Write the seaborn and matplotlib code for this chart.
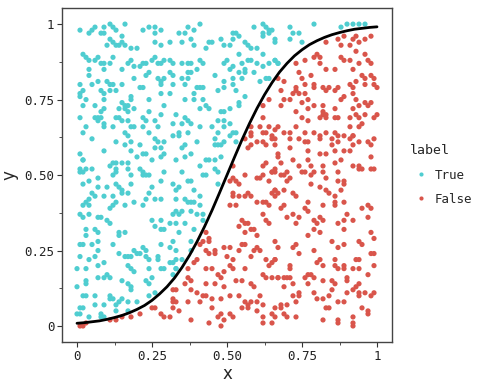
import numpy as np
import pandas as pd
import matplotlib
matplotlib.use('Agg')
import matplotlib.pyplot as plt
import seaborn as sns

# points above the curve (label True)
true_x = [
    0.01, 0.04, 0.06, 0.05, 0.09, 0.11, 0.12, 0.13, 0.16, 0.08, 0.09, 0.15, 0.22, 0.24, 0.26, 0.28, 0.26,
    0.11, 0.12, 0.13, 0.15, 0.14, 0.16, 0.10, 0.18, 0.20, 0.26, 0.31, 0.28,
    0.02, 0.03, 0.04, 0.06, 0.07, 0.08, 0.09, 0.09, 0.12, 0.11, 0.17, 0.18, 0.19, 0.21, 0.22, 0.23, 0.25,
    0.26, 0.27, 0.28, 0.29, 0.31, 0.32, 0.31, 0.32,
    0.04, 0.15, 0.24, 0.23, 0.04, 0.07, 0.05, 0.01, 0.10, 0.11, 0.12, 0.15, 0.19, 0.27, 0.28, 0.29, 0.28, 0.32,
    0.22, 0.21, 0.08, 0.11, 0.13, 0.02, 0.01, 0.01, 0.03, 0.09, 0.18, 0.18, 0.24, 0.28, 0.31, 0.09, 0.15, 0.16,
    0.02, 0.06, 0.09, 0.14, 0.16, 0.17, 0.19, 0.24, 0.29, 0.08, 0.08, 0.07, 0.06, 0.01, 0.14, 0.13, 0.17,
    0.22, 0.23, 0.28, 0.07, 0.09, 0.09, 0.12, 0.15, 0.17, 0.18, 0.19, 0.22, 0.26, 0.27, 0.32, 0.03, 0.02,
    0.05, 0.16, 0.17, 0.24, 0.26, 0.32, 0.13, 0.16, 0.18, 0.21, 0.27, 0.29, 0.26, 0.28, 0.09, 0.18,
    0.01, 0.02, 0.02, 0.11, 0.12, 0.13, 0.15, 0.17, 0.20, 0.22, 0.23, 0.25, 0.28, 0.29, 0.01, 0.02, 0.03,
    0.13, 0.17, 0.21, 0.22,
    0.34, 0.36, 0.37, 0.39, 0.41, 0.38, 0.39, 0.35, 0.43, 0.44, 0.45, 0.48, 0.49, 0.51, 0.52, 0.53, 0.54,
    0.52, 0.56, 0.57, 0.58, 0.59, 0.62, 0.63, 0.64, 0.62, 0.64, 0.62, 0.60, 0.62, 0.54, 0.50, 0.49, 0.51,
    0.52, 0.55, 0.56, 0.54, 0.57, 0.58, 0.60, 0.62, 0.64, 0.66, 0.35, 0.37, 0.38, 0.41, 0.42, 0.37, 0.38,
    0.40, 0.35, 0.37, 0.36, 0.46, 0.49, 0.52, 0.55, 0.56, 0.59, 0.61, 0.63, 0.64, 0.40, 0.41, 0.42, 0.39,
    0.39, 0.42, 0.41, 0.43, 0.44, 0.47, 0.49, 0.52, 0.53, 0.54, 0.54, 0.56, 0.36, 0.33, 0.36, 0.37, 0.38,
    0.35, 0.34, 0.37, 0.41, 0.45, 0.47, 0.49, 0.49, 0.51, 0.52, 0.51, 0.53, 0.53, 0.48, 0.49, 0.51, 0.47,
    0.46, 0.46, 0.47, 0.48, 0.49, 0.34, 0.36, 0.35, 0.40, 0.36, 0.38, 0.43, 0.44, 0.46, 0.48, 0.41, 0.46,
    0.47, 0.33,
    0.65, 0.66, 0.66, 0.71, 0.72, 0.74, 0.71, 0.75, 0.79, 0.88, 0.90, 0.92, 0.94, 0.96, 0.66, 0.67, 0.67,
    0.01, 0.05, 0.12, 0.13, 0.18, 0.22, 0.23, 0.24, 0.29, 0.02, 0.04, 0.07, 0.07, 0.10, 0.13, 0.14, 0.15,
    0.18, 0.28, 0.32, 0.05, 0.06, 0.04, 0.09, 0.12, 0.15, 0.17, 0.25, 0.24, 0.23, 0.26, 0.28, 0.03, 0.02,
    0.04, 0.13, 0.12, 0.11, 0.16, 0.19, 0.22, 0.01, 0.04, 0.02, 0.07, 0.08, 0.10, 0.11, 0.25, 0.28, 0.31,
    0.32, 0.03, 0.06, 0.07, 0.03, 0.14, 0.14, 0.16, 0.26, 0.28, 0.29, 0.01, 0.02, 0.07, 0.05, 0.12, 0.19,
    0.22, 0.23, 0.28, 0.31, 0.32, 0.07, 0.06, 0.04, 0.01, 0.14, 0.16, 0.17, 0.18, 0.20, 0.21, 0.23, 0.24,
    0.27, 0.27, 0.31, 0.32, 0.00, 0.03, 0.07, 0.09, 0.17, 0.18, 0.19, 0.24, 0.28, 0.29, 0.33, 0.07, 0.09,
    0.10, 0.11, 0.15, 0.03, 0.03, 0.17, 0.18, 0.18, 0.23, 0.25, 0.24, 0.00, 0.02, 0.03, 0.06, 0.11, 0.11,
    0.12, 0.13, 0.14, 0.15, 0.17, 0.20, 0.24, 0.26, 0.01, 0.02, 0.06, 0.09, 0.00, 0.01, 0.04, 0.08, 0.09,
    0.13, 0.17, 0.08,
    0.35, 0.37, 0.38, 0.42, 0.43, 0.47, 0.34, 0.33, 0.39, 0.41, 0.33, 0.36, 0.37, 0.38, 0.39, 0.41, 0.33,
    0.34, 0.35, 0.38, 0.40, 0.42, 0.33, 0.36, 0.34, 0.39, 0.42, 0.38, 0.38, 0.33, 0.33, 0.35, 0.33, 0.32,
]
true_y = [
    0.98, 0.97, 0.99, 0.98, 0.99, 1.00, 0.99, 0.98, 1.00, 0.97, 0.97, 0.96, 0.98, 0.99, 0.97, 0.98, 0.99,
    0.95, 0.94, 0.93, 0.94, 0.93, 0.93, 0.93, 0.92, 0.92, 0.94, 0.94, 0.93,
    0.90, 0.89, 0.88, 0.88, 0.89, 0.87, 0.85, 0.87, 0.89, 0.87, 0.87, 0.88, 0.86, 0.86, 0.87, 0.87, 0.88,
    0.89, 0.87, 0.87, 0.88, 0.88, 0.87, 0.84, 0.83,
    0.85, 0.85, 0.84, 0.83, 0.83, 0.81, 0.80, 0.80, 0.81, 0.80, 0.80, 0.80, 0.82, 0.82, 0.81, 0.82, 0.80, 0.80,
    0.79, 0.79, 0.78, 0.78, 0.78, 0.78, 0.77, 0.76, 0.75, 0.77, 0.76, 0.75, 0.75, 0.77, 0.77, 0.75, 0.74, 0.73,
    0.73, 0.73, 0.72, 0.72, 0.72, 0.73, 0.72, 0.71, 0.73, 0.71, 0.69, 0.69, 0.69, 0.69, 0.69, 0.69, 0.71,
    0.69, 0.68, 0.70, 0.68, 0.66, 0.67, 0.66, 0.68, 0.68, 0.66, 0.66, 0.66, 0.68, 0.66, 0.67, 0.66, 0.64,
    0.62, 0.64, 0.63, 0.64, 0.62, 0.63, 0.61, 0.60, 0.61, 0.60, 0.61, 0.61, 0.59, 0.59, 0.58, 0.58,
    0.57, 0.55, 0.55, 0.53, 0.54, 0.54, 0.54, 0.54, 0.56, 0.57, 0.57, 0.55, 0.56, 0.57, 0.52, 0.51, 0.52,
    0.52, 0.52, 0.52, 0.51,
    0.97, 0.97, 0.99, 0.98, 1.00, 0.95, 0.93, 0.94, 0.92, 0.94, 0.94, 0.95, 0.93, 0.93, 0.97, 0.97, 0.96,
    0.95, 0.94, 0.93, 0.92, 0.99, 1.00, 0.99, 0.98, 0.97, 0.97, 0.96, 0.92, 0.90, 0.90, 0.88, 0.87, 0.85,
    0.86, 0.87, 0.85, 0.84, 0.88, 0.88, 0.87, 0.86, 0.87, 0.88, 0.87, 0.87, 0.87, 0.88, 0.87, 0.84, 0.84,
    0.85, 0.82, 0.82, 0.80, 0.83, 0.81, 0.82, 0.82, 0.84, 0.84, 0.81, 0.82, 0.82, 0.79, 0.79, 0.79, 0.77,
    0.75, 0.75, 0.72, 0.73, 0.72, 0.78, 0.79, 0.80, 0.78, 0.74, 0.73, 0.76, 0.75, 0.70, 0.69, 0.68, 0.67,
    0.67, 0.64, 0.64, 0.66, 0.66, 0.68, 0.68, 0.66, 0.67, 0.64, 0.63, 0.64, 0.61, 0.71, 0.71, 0.72, 0.64,
    0.62, 0.60, 0.60, 0.60, 0.61, 0.63, 0.60, 0.59, 0.61, 0.56, 0.57, 0.55, 0.55, 0.55, 0.56, 0.53, 0.52,
    0.51, 0.55,
    0.98, 0.95, 0.94, 0.99, 0.97, 0.97, 0.95, 0.94, 1.00, 0.99, 1.00, 1.00, 1.00, 1.00, 0.88, 0.87, 0.87,
    0.51, 0.52, 0.50, 0.51, 0.50, 0.50, 0.50, 0.50, 0.51, 0.47, 0.48, 0.49, 0.46, 0.46, 0.47, 0.46, 0.45,
    0.47, 0.48, 0.47, 0.44, 0.43, 0.42, 0.43, 0.43, 0.44, 0.44, 0.46, 0.44, 0.42, 0.42, 0.42, 0.41, 0.40,
    0.40, 0.41, 0.40, 0.39, 0.40, 0.41, 0.40, 0.37, 0.37, 0.36, 0.36, 0.36, 0.35, 0.34, 0.35, 0.35, 0.34,
    0.37, 0.32, 0.32, 0.31, 0.30, 0.31, 0.30, 0.31, 0.33, 0.32, 0.32, 0.27, 0.27, 0.28, 0.27, 0.27, 0.25,
    0.26, 0.25, 0.27, 0.26, 0.28, 0.25, 0.23, 0.22, 0.23, 0.24, 0.23, 0.23, 0.23, 0.24, 0.24, 0.23, 0.22,
    0.22, 0.23, 0.21, 0.21, 0.19, 0.19, 0.20, 0.21, 0.20, 0.19, 0.18, 0.19, 0.19, 0.19, 0.19, 0.16, 0.16,
    0.17, 0.16, 0.15, 0.15, 0.14, 0.14, 0.13, 0.12, 0.15, 0.16, 0.14, 0.13, 0.10, 0.10, 0.10, 0.10, 0.09,
    0.09, 0.07, 0.08, 0.09, 0.08, 0.08, 0.10, 0.11, 0.06, 0.06, 0.07, 0.07, 0.04, 0.04, 0.03, 0.04, 0.03,
    0.05, 0.05, 0.03,
    0.51, 0.48, 0.48, 0.50, 0.50, 0.47, 0.46, 0.45, 0.45, 0.43, 0.42, 0.42, 0.41, 0.41, 0.41, 0.40, 0.38,
    0.37, 0.38, 0.38, 0.37, 0.37, 0.34, 0.34, 0.31, 0.32, 0.35, 0.28, 0.25, 0.25, 0.22, 0.22, 0.19, 0.17,
]

# points below the curve (label False)
false_x = [
    0.64, 0.62, 0.62, 0.61, 0.58, 0.58, 0.62, 0.63, 0.65, 0.64, 0.66, 0.58, 0.60, 0.56, 0.62, 0.65, 0.66,
    0.63, 0.58, 0.57, 0.67, 0.63, 0.62, 0.65, 0.52,
    0.83, 0.87, 0.89, 0.92, 0.93, 0.94, 0.96, 0.98, 0.91, 0.88, 0.80, 0.79, 0.81, 0.76, 0.73, 0.81, 0.83,
    0.78, 0.86, 0.88, 0.89, 0.91, 0.93, 0.96, 0.94, 0.97, 0.98, 0.92, 0.95, 0.96, 0.98, 0.99, 0.67, 0.69,
    0.74, 0.75, 0.76, 0.79, 0.79, 0.82, 0.83, 0.84, 0.86, 0.87, 0.91, 0.92, 0.93, 0.96, 0.99, 1.00, 0.73,
    0.73, 0.72, 0.74, 0.76, 0.77, 0.75, 0.77, 0.68, 0.69, 0.71, 0.88, 0.89, 0.92, 0.93, 0.94, 0.96, 0.97,
    0.98, 0.79, 0.82, 0.82, 0.83, 0.86, 0.86, 0.87, 0.92, 0.93, 0.94, 0.96, 0.99, 1.00, 0.68, 0.73, 0.75,
    0.77, 0.81, 0.82, 0.83, 0.91, 0.67, 0.69, 0.71, 0.73, 0.76, 0.79, 0.81, 0.83, 0.86, 0.87, 0.89, 0.92,
    0.91, 0.94, 0.95, 0.66, 0.71, 0.74, 0.76, 0.77, 0.81, 0.85, 0.85, 0.87, 0.91, 0.92, 0.94, 0.97, 0.98,
    0.99, 0.71, 0.77, 0.81, 0.83, 0.86, 0.89, 0.91, 0.92, 0.98, 0.67, 0.68, 0.72, 0.74, 0.77, 0.78, 0.82,
    0.86, 0.88, 0.92, 0.94, 0.95, 0.99, 0.66, 0.70, 0.75, 0.82, 0.87,
    0.32, 0.32, 0.33, 0.32, 0.31, 0.29, 0.28, 0.25, 0.26, 0.21, 0.18, 0.15, 0.13, 0.11, 0.02, 0.03, 0.01,
    0.51, 0.52, 0.53, 0.54, 0.56, 0.60, 0.61, 0.62, 0.65, 0.64, 0.66, 0.52, 0.52, 0.54, 0.56, 0.57, 0.58,
    0.60, 0.62, 0.63, 0.64, 0.65, 0.66, 0.51, 0.53, 0.55, 0.56, 0.57, 0.58, 0.59, 0.60, 0.54, 0.56, 0.62,
    0.63, 0.64, 0.43, 0.44, 0.44, 0.42, 0.41, 0.40, 0.39, 0.43, 0.44, 0.46, 0.46, 0.49, 0.51, 0.50, 0.52,
    0.51, 0.54, 0.55, 0.56, 0.59, 0.58, 0.60, 0.61, 0.63, 0.65, 0.64, 0.66, 0.43, 0.45, 0.47, 0.49, 0.52,
    0.56, 0.37, 0.37, 0.38, 0.36, 0.33, 0.38, 0.40, 0.43, 0.46, 0.48, 0.49, 0.53, 0.55, 0.58, 0.59, 0.62,
    0.63, 0.65, 0.67, 0.42, 0.43, 0.45, 0.48, 0.51, 0.54, 0.56, 0.58, 0.57, 0.60, 0.61, 0.62, 0.32, 0.34,
    0.37, 0.41, 0.45, 0.48, 0.47, 0.49, 0.51, 0.52, 0.55, 0.57, 0.60, 0.62, 0.65, 0.66, 0.38, 0.44, 0.48,
    0.62, 0.65,
    0.68, 0.69, 0.71, 0.70, 0.76, 0.78, 0.79, 0.83, 0.87, 0.89, 0.89, 0.94, 0.98, 0.66, 0.67, 0.66, 0.69,
    0.72, 0.73, 0.78, 0.81, 0.83, 0.84, 0.86, 0.88, 0.86, 0.86, 0.89, 0.77, 0.76, 0.77, 0.82, 0.68, 0.69,
    0.70, 0.72, 0.74, 0.73, 0.79, 0.81, 0.82, 0.80, 0.79, 0.81, 0.87, 0.89, 0.90, 0.92, 0.89, 0.95, 0.97,
    0.98, 0.97, 0.98, 0.99, 0.66, 0.67, 0.73, 0.72, 0.74, 0.77, 0.79, 0.81, 0.80, 0.82, 0.85, 0.87, 0.89,
    0.86, 0.86, 0.87, 0.89, 0.89, 0.92, 0.93, 0.94, 0.94, 0.95, 0.98, 0.99, 0.99, 0.94, 0.97, 0.66, 0.71,
    0.71, 0.67, 0.69, 0.70, 0.71, 0.76, 0.77, 0.78, 0.79, 0.69, 0.72, 0.77, 0.82, 0.85, 0.86, 0.90, 0.90,
    0.93, 0.94, 0.92, 0.94, 0.96, 0.98, 0.99, 0.72, 0.74, 0.74, 0.79, 0.80, 0.82, 0.84, 0.85, 0.87, 0.90,
    0.94, 0.68, 0.70, 0.73, 0.68, 0.83, 0.84, 0.89, 0.95, 0.97, 0.69, 0.70, 0.73, 0.66, 0.82, 0.87, 0.87,
    0.92, 0.92, 0.92, 0.97,
]
false_y = [
    0.75, 0.73, 0.69, 0.66, 0.66, 0.64, 0.64, 0.64, 0.63, 0.66, 0.65, 0.63, 0.61, 0.62, 0.61, 0.62, 0.60,
    0.60, 0.60, 0.59, 0.57, 0.54, 0.53, 0.51, 0.53,
    0.94, 0.95, 0.96, 0.95, 0.96, 0.94, 0.95, 0.96, 0.93, 0.93, 0.90, 0.89, 0.89, 0.88, 0.87, 0.87, 0.85,
    0.83, 0.85, 0.89, 0.88, 0.88, 0.91, 0.90, 0.87, 0.88, 0.87, 0.85, 0.83, 0.82, 0.83, 0.82, 0.82, 0.81,
    0.84, 0.82, 0.80, 0.80, 0.79, 0.79, 0.78, 0.79, 0.78, 0.79, 0.80, 0.79, 0.81, 0.80, 0.80, 0.79, 0.79,
    0.78, 0.77, 0.77, 0.77, 0.75, 0.74, 0.72, 0.78, 0.75, 0.75, 0.75, 0.76, 0.77, 0.75, 0.73, 0.74, 0.73,
    0.74, 0.73, 0.73, 0.71, 0.70, 0.72, 0.69, 0.69, 0.72, 0.70, 0.69, 0.70, 0.69, 0.70, 0.73, 0.71, 0.69,
    0.68, 0.69, 0.70, 0.69, 0.69, 0.66, 0.64, 0.64, 0.66, 0.64, 0.64, 0.63, 0.64, 0.64, 0.63, 0.63, 0.63,
    0.66, 0.66, 0.67, 0.62, 0.62, 0.62, 0.61, 0.61, 0.62, 0.62, 0.60, 0.61, 0.62, 0.63, 0.61, 0.61, 0.60,
    0.62, 0.59, 0.58, 0.57, 0.57, 0.58, 0.58, 0.58, 0.60, 0.56, 0.56, 0.54, 0.55, 0.53, 0.55, 0.53, 0.53,
    0.54, 0.55, 0.53, 0.53, 0.52, 0.52, 0.52, 0.51, 0.51, 0.51, 0.51,
    0.12, 0.09, 0.08, 0.06, 0.03, 0.03, 0.04, 0.06, 0.06, 0.04, 0.03, 0.03, 0.02, 0.02, 0.00, 0.01, 0.00,
    0.48, 0.49, 0.48, 0.47, 0.50, 0.49, 0.49, 0.50, 0.51, 0.48, 0.51, 0.44, 0.43, 0.43, 0.43, 0.44, 0.43,
    0.41, 0.41, 0.41, 0.40, 0.44, 0.45, 0.40, 0.40, 0.35, 0.34, 0.34, 0.32, 0.32, 0.30, 0.33, 0.31, 0.37,
    0.35, 0.34, 0.31, 0.29, 0.28, 0.28, 0.27, 0.22, 0.21, 0.25, 0.24, 0.24, 0.25, 0.26, 0.26, 0.23, 0.22,
    0.20, 0.25, 0.27, 0.27, 0.25, 0.23, 0.26, 0.25, 0.22, 0.21, 0.20, 0.22, 0.19, 0.19, 0.17, 0.18, 0.19,
    0.19, 0.19, 0.16, 0.15, 0.14, 0.12, 0.12, 0.11, 0.14, 0.14, 0.16, 0.13, 0.15, 0.15, 0.14, 0.13, 0.17,
    0.16, 0.16, 0.16, 0.10, 0.10, 0.09, 0.09, 0.10, 0.10, 0.08, 0.08, 0.06, 0.08, 0.10, 0.07, 0.08, 0.05,
    0.08, 0.08, 0.06, 0.04, 0.03, 0.02, 0.04, 0.03, 0.06, 0.07, 0.05, 0.03, 0.04, 0.06, 0.02, 0.01, 0.00,
    0.01, 0.01,
    0.50, 0.50, 0.49, 0.48, 0.51, 0.50, 0.51, 0.49, 0.48, 0.47, 0.48, 0.52, 0.52, 0.45, 0.44, 0.43, 0.45,
    0.44, 0.43, 0.47, 0.46, 0.45, 0.44, 0.43, 0.45, 0.41, 0.40, 0.41, 0.41, 0.39, 0.38, 0.40, 0.39, 0.40,
    0.36, 0.37, 0.36, 0.34, 0.35, 0.36, 0.35, 0.34, 0.32, 0.31, 0.34, 0.35, 0.37, 0.35, 0.32, 0.39, 0.40,
    0.39, 0.36, 0.31, 0.29, 0.28, 0.26, 0.27, 0.26, 0.24, 0.30, 0.25, 0.22, 0.21, 0.20, 0.28, 0.26, 0.27,
    0.22, 0.20, 0.19, 0.20, 0.19, 0.19, 0.22, 0.22, 0.28, 0.27, 0.24, 0.24, 0.20, 0.19, 0.17, 0.22, 0.20,
    0.19, 0.16, 0.16, 0.16, 0.16, 0.16, 0.17, 0.17, 0.16, 0.13, 0.14, 0.14, 0.15, 0.15, 0.14, 0.16, 0.15,
    0.13, 0.14, 0.12, 0.11, 0.11, 0.10, 0.11, 0.10, 0.10, 0.11, 0.11, 0.09, 0.09, 0.10, 0.12, 0.08, 0.11,
    0.10, 0.07, 0.07, 0.08, 0.06, 0.06, 0.06, 0.08, 0.06, 0.05, 0.04, 0.03, 0.03, 0.03, 0.02, 0.02, 0.01,
    0.03, 0.01, 0.00, 0.04,
]

# decision curve, read at fixed x steps
curve_x = [0.000, 0.025, 0.050, 0.075, 0.100, 0.125, 0.150, 0.175, 0.200, 0.225,
           0.250, 0.275, 0.300, 0.325, 0.350, 0.375, 0.400, 0.425, 0.450, 0.475,
           0.500, 0.525, 0.550, 0.575, 0.600, 0.625, 0.650, 0.675, 0.700, 0.725,
           0.750, 0.775, 0.800, 0.825, 0.850, 0.875, 0.900, 0.925, 0.950, 0.975, 1.000]
curve_y = [0.009, 0.011, 0.014, 0.017, 0.022, 0.028, 0.035, 0.044, 0.055, 0.068,
           0.085, 0.106, 0.130, 0.159, 0.194, 0.234, 0.279, 0.329, 0.383, 0.441,
           0.500, 0.559, 0.617, 0.671, 0.721, 0.766, 0.806, 0.841, 0.870, 0.895,
           0.915, 0.932, 0.945, 0.956, 0.965, 0.972, 0.978, 0.983, 0.986, 0.989, 0.991]

tick_vals = [0, 0.25, 0.5, 0.75, 1]
tick_labels = ['0', '0.25', '0.50', '0.75', '1']

df = pd.concat([
    pd.DataFrame({'x': true_x, 'y': true_y, 'label': 'True'}),
    pd.DataFrame({'x': false_x, 'y': false_y, 'label': 'False'}),
], ignore_index=True)
curve_df = pd.DataFrame({'x': curve_x, 'y': curve_y})

sns.set_style('white')
plt.rcParams['font.family'] = ['DejaVu Sans Mono', 'DejaVu Sans']

fig = plt.figure(figsize=(5, 3.86), dpi=100)
ax = fig.add_axes([0.124, 0.114, 0.66, 0.865])

sns.scatterplot(data=df, x='x', y='y', hue='label', hue_order=['True', 'False'],
                palette={'True': '#4fcdd0', 'False': '#d9554b'},
                s=14, linewidth=0, ax=ax)
sns.lineplot(data=curve_df, x='x', y='y', color='black', linewidth=2, ax=ax)

ax.set_xlim(-0.05, 1.05)
ax.set_ylim(-0.053, 1.053)
ax.set_xticks(tick_vals)
ax.set_xticklabels(tick_labels)
ax.set_yticks(tick_vals)
ax.set_yticklabels(tick_labels)
ax.set_xticks([0.125, 0.375, 0.625, 0.875], minor=True)
ax.set_yticks([0.125, 0.375, 0.625, 0.875], minor=True)
ax.tick_params(which='major', length=3.5, width=0.8, color='#333333', labelsize=9, pad=2,
               bottom=True, left=True, labelcolor='#222222')
ax.tick_params(which='minor', length=2, width=0.6, color='#333333', bottom=True, left=True)
for sp in ax.spines.values():
    sp.set_color('#444444')
    sp.set_linewidth(1)
ax.set_xlabel('x', fontsize=12, labelpad=2, family='DejaVu Sans')
ax.set_ylabel('y', fontsize=12, labelpad=4, family='DejaVu Sans')

sns.move_legend(ax, 'center left', bbox_to_anchor=(1.02, 0.50), frameon=False,
                title='label', fontsize=9, title_fontsize=9.5, markerscale=0.8,
                handlelength=1.8, handletextpad=0.2, labelspacing=0.9)
ax.get_legend()._legend_box.align = 'left'

fig.savefig('out.png', dpi=100)
